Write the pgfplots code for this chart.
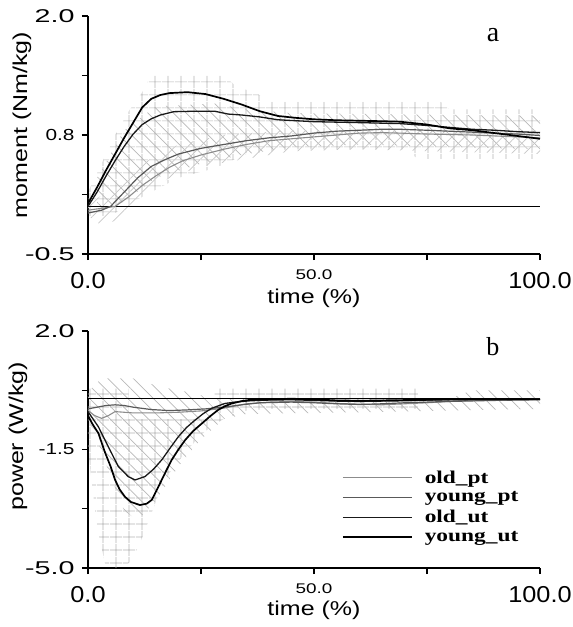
\documentclass[border=0pt]{standalone}
\usepackage{fontspec}
\setmainfont{Liberation Serif}
\newfontfamily\arial{Liberation Sans}
\usepackage{graphicx}
\usepackage{pgfplots}
\pgfplotsset{compat=1.18}
\usetikzlibrary{patterns.meta}

\newcommand{\ylab}[1]{\scalebox{1.55}[1]{\fontsize{18.5}{18.5}\selectfont\arial #1}}
\newcommand{\ylabm}[1]{\scalebox{1.3}[1]{\fontsize{16}{16}\selectfont\arial #1}}
\newcommand{\xlab}[1]{\scalebox{1.1}[1]{\fontsize{23}{23}\selectfont\arial #1}}
\newcommand{\xlabm}[1]{\scalebox{1.35}[1]{\fontsize{14}{14}\selectfont\arial #1}}
\newcommand{\axlab}[1]{\scalebox{1.25}[1]{\fontsize{20}{20}\selectfont\arial #1}}
\newcommand{\leg}[1]{\scalebox{1.3}[1]{#1}}

\pgfplotsset{
  myaxis/.style={
    scale only axis, width=452pt,
    xmin=0, xmax=100,
    axis lines*=left,
    axis line style={line width=1.1pt, black},
    tick align=outside,
    major tick length=6pt,
    tick style={line width=1.1pt, black},
    xtick={0,25,75,100},
    xticklabels={\xlab{0.0},,,\xlab{100.0}},
    xticklabel style={anchor=base, yshift=-28pt},
    extra x ticks={50},
    extra x tick labels={\xlabm{50.0}},
    extra x tick style={xticklabel style={yshift=9pt}},
    yticklabel style={anchor=east, xshift=-4pt},
    xlabel={\axlab{time (\%)}},
    clip=false,
  },
  gridpat/.style={draw=none, forget plot, pattern={Hatch[distance=13pt, line width=0.7pt]}, pattern color=black!30},
  bspat/.style={draw=none, forget plot, pattern={Lines[angle=-45, distance=9pt, line width=0.7pt]}, pattern color=black!28},
  fspat/.style={draw=none, forget plot, pattern={Lines[angle=45, distance=9pt, line width=0.7pt]}, pattern color=black!22},
  oldpt/.style={color=black!45, line width=1.1pt},
  youngpt/.style={color=black!65, line width=1.2pt},
  oldut/.style={color=black!90, line width=1.3pt},
  youngut/.style={color=black, line width=1.7pt},
}

\begin{document}
\begin{tikzpicture}
\path[use as bounding box] (-88pt,-373pt) rectangle (485pt,254pt);

% ---------------- panel a ----------------
\begin{axis}[myaxis, height=238pt,
  ymin=-0.5, ymax=2.0,
  ytick={-0.5,0.125,0.75,1.375,2.0},
  yticklabels={\ylab{-0.5},,\ylabm{0.8},,\ylab{2.0}},
  xlabel style={at={(axis description cs:0.5,-0.185)}, anchor=center},
  ylabel={\axlab{moment (Nm/kg)}},
  ylabel style={at={(axis description cs:-0.146,0.542)}, anchor=center},
]
% std bands
\addplot[gridpat] coordinates {(0,0.15) (3,0.45) (6,0.75) (9,1.0) (12,1.2) (14,1.38) (30,1.38) (33,1.25) (37,1.2) (40,1.1) (78,1.1) (80,1.02) (100,1.02)
  (100,0.5) (73,0.5) (70,0.6) (45,0.6) (35,0.55) (28,0.4) (20,0.3) (10,0.05) (5,-0.1) (0,-0.1)} -- cycle;
\addplot[bspat] coordinates {(2,0.3) (8,0.8) (15,1.05) (28,1.08) (35,1.02) (45,0.98) (100,0.95)
  (100,0.6) (60,0.65) (45,0.62) (35,0.55) (25,0.45) (15,0.3) (8,0.05) (2,-0.05)} -- cycle;
\addplot[fspat] coordinates {(0,0.05) (5,0.15) (12,0.45) (20,0.65) (30,0.75) (45,0.8) (100,0.8)
  (100,0.55) (60,0.6) (45,0.58) (35,0.5) (25,0.42) (18,0.3) (12,0.1) (6,-0.15) (3,-0.2) (0,-0.1)} -- cycle;
% zero line
\addplot[black, line width=1.1pt, forget plot] coordinates {(0,0) (100,0)};
% old_pt
\addplot[oldpt] coordinates {(0,-0.04) (3,-0.02) (6,0.0) (9,0.1) (12,0.22) (15,0.32) (18,0.41) (21,0.48) (25,0.54) (30,0.6) (35,0.65) (40,0.69) (45,0.71) (50,0.73) (55,0.75) (60,0.77) (65,0.775) (69,0.77) (75,0.76) (80,0.755) (85,0.75) (90,0.74) (95,0.73) (100,0.72)};
% young_pt
\addplot[youngpt] coordinates {(0,-0.07) (3,-0.04) (5,0.0) (8,0.15) (11,0.3) (14,0.42) (17,0.49) (20,0.55) (25,0.61) (30,0.65) (35,0.69) (40,0.72) (45,0.74) (50,0.77) (55,0.79) (60,0.8) (65,0.81) (69,0.81) (75,0.8) (80,0.79) (85,0.78) (90,0.77) (95,0.76) (100,0.745)};
% old_ut
\addplot[oldut] coordinates {(0,0.0) (2,0.15) (4,0.32) (6,0.48) (8,0.63) (10,0.76) (12,0.86) (14,0.92) (16,0.96) (19,0.995) (24,1.0) (28,1.0) (31,0.97) (34,0.96) (38,0.94) (42,0.91) (46,0.9) (50,0.89) (55,0.885) (60,0.88) (69,0.87) (75,0.85) (80,0.83) (85,0.81) (90,0.8) (95,0.785) (100,0.775)};
% young_ut
\addplot[youngut] coordinates {(0,0.03) (2,0.2) (4,0.38) (6,0.55) (8,0.72) (10,0.88) (12,1.04) (14,1.13) (16,1.17) (18,1.19) (22,1.2) (26,1.18) (30,1.13) (34,1.07) (38,1.0) (42,0.95) (46,0.93) (50,0.915) (55,0.905) (60,0.9) (65,0.895) (69,0.89) (75,0.86) (80,0.82) (85,0.8) (90,0.77) (95,0.74) (100,0.71)};
\node[font=\fontsize{28}{28}\selectfont] at (axis cs:89.6,1.8) {a};
\end{axis}

% ---------------- panel b ----------------
\begin{axis}[myaxis, height=237pt, at={(0pt,-314pt)},
  ymin=-5.0, ymax=2.0,
  ytick={-5.0,-3.25,-1.5,0.25,2.0},
  yticklabels={\ylab{-5.0},,\ylabm{-1.5},,\ylab{2.0}},
  xlabel style={at={(axis description cs:0.5,-0.177)}, anchor=center},
  ylabel={\axlab{power (W/kg)}},
  ylabel style={at={(axis description cs:-0.155,0.555)}, anchor=center},
  legend style={at={(axis cs:55.5,-2.0)}, anchor=north west, draw=none, fill=none,
    font=\fontsize{18}{18}\selectfont\bfseries, row sep=3pt,
    /tikz/every odd column/.append style={column sep=10pt}},
  legend cell align=left,
  legend image code/.code={\draw[#1] (0pt,0pt) -- (69pt,0pt);},
]
\addplot[gridpat] coordinates {(0,0.3) (9,0.3) (9,-0.6) (28,-0.6) (28,0.3) (73,0.3) (73,-0.3)
  (40,-0.3) (35,-0.35) (30,-0.6) (26,-0.95) (22,-1.5) (18,-2.2) (16,-2.7) (14,-3.4) (12,-4.1) (10,-4.7) (8,-5.0) (4,-5.0) (2,-3.8) (0,-1.5)} -- cycle;
\addplot[bspat] coordinates {(0,0.2) (3,0.6) (10,0.6) (16,0.35) (22,0.2) (28,0.0) (35,0.0) (80,0.0) (85,0.25) (100,0.25)
  (100,-0.3) (60,-0.4) (35,-0.45) (30,-0.6) (25,-1.2) (20,-2.0) (15,-3.0) (11,-3.6) (8,-3.3) (5,-2.3) (2,-1.2) (0,-0.6)} -- cycle;
\addplot[black, line width=1.1pt, forget plot] coordinates {(0,0) (100,0)};
% old_pt
\addplot[oldpt] coordinates {(0,-0.35) (1.5,-0.5) (3,-0.58) (4.5,-0.5) (6,-0.38) (8,-0.4) (10,-0.42) (15,-0.42) (20,-0.4) (25,-0.36) (30,-0.28) (35,-0.15) (40,-0.1) (45,-0.08) (50,-0.1) (55,-0.14) (60,-0.16) (65,-0.18) (70,-0.15) (75,-0.12) (80,-0.08) (85,-0.05) (90,-0.03) (100,-0.02)};
\addlegendentry{\leg{old\_pt}}
% young_pt
\addplot[youngpt] coordinates {(0,-0.3) (2,-0.25) (4,-0.2) (6,-0.18) (8,-0.2) (10,-0.25) (14,-0.32) (18,-0.35) (22,-0.33) (26,-0.3) (30,-0.25) (34,-0.18) (38,-0.12) (45,-0.1) (50,-0.12) (55,-0.15) (60,-0.17) (65,-0.15) (70,-0.12) (75,-0.1) (80,-0.08) (90,-0.05) (100,-0.03)};
\addlegendentry{\leg{young\_pt}}
% old_ut
\addplot[oldut] coordinates {(0,-0.38) (2.3,-0.83) (4.5,-1.42) (6.7,-2.0) (8.9,-2.3) (10.4,-2.4) (12.6,-2.3) (14.5,-2.08) (16.3,-1.81) (18.2,-1.45) (20,-1.12) (21.8,-0.85) (23.7,-0.63) (25.5,-0.44) (27.4,-0.28) (30.3,-0.14) (32.5,-0.1) (36,-0.06) (40,-0.04) (45,-0.03) (50,-0.05) (55,-0.07) (60,-0.08) (65,-0.07) (70,-0.06) (75,-0.04) (80,-0.03) (90,-0.02) (100,-0.01)};
\addlegendentry{\leg{old\_ut}}
% young_ut
\addplot[youngut] coordinates {(0,-0.5) (1,-0.75) (2.3,-1.02) (3.8,-1.6) (5,-2.0) (6,-2.4) (7,-2.68) (8.2,-2.9) (9.5,-3.05) (11.5,-3.14) (13,-3.1) (14.1,-2.99) (15.2,-2.7) (16.3,-2.4) (17.4,-2.1) (18.5,-1.81) (20,-1.5) (21.5,-1.22) (23.3,-0.95) (25.2,-0.73) (27,-0.52) (28.8,-0.33) (30.3,-0.22) (31.8,-0.14) (34,-0.07) (36,-0.03) (40,-0.02) (45,0.0) (50,-0.02) (55,-0.05) (60,-0.06) (65,-0.05) (70,-0.04) (75,-0.03) (80,-0.02) (85,-0.01) (90,-0.01) (100,-0.02)};
\addlegendentry{\leg{young\_ut}}
\node[font=\fontsize{26}{26}\selectfont] at (axis cs:89.6,1.53) {b};
\end{axis}
\end{tikzpicture}
\end{document}
